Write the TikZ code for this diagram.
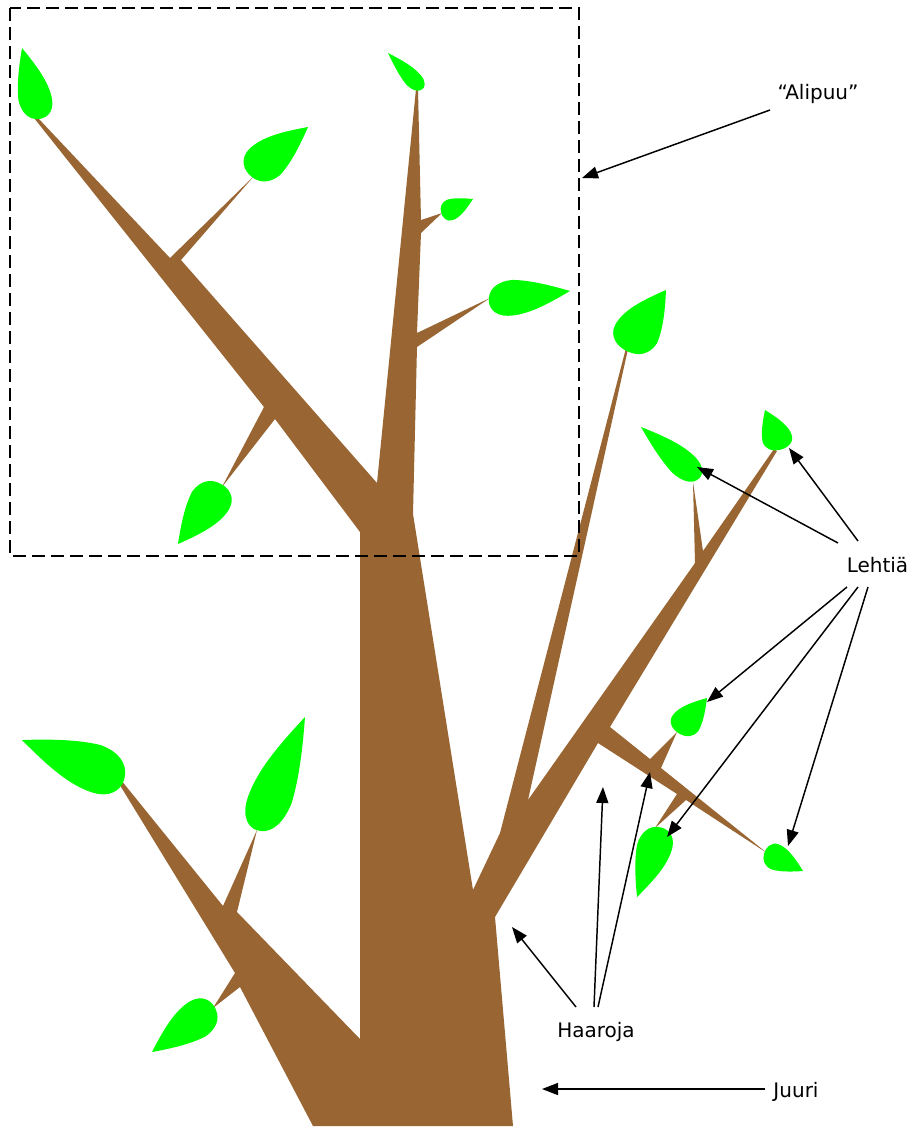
\documentclass[tikz,border=0pt]{standalone}
\usepackage{fontspec}
\setmainfont{DejaVu Sans}
\usetikzlibrary{arrows.meta}
\definecolor{bark}{HTML}{996633}
\definecolor{leafgreen}{HTML}{00FF00}
% leaf: base x, base y, tip x, tip y, signed half-width ratio (pixel units, y down)
\newcommand\drawleaf[5]{%
  \pgfmathsetmacro\lfdx{0.75*(#3-#1)}%
  \pgfmathsetmacro\lfdy{-0.75*(#4-#2)}%
  \pgfmathsetmacro\lfpx{(#5)*(\lfdy)}%
  \pgfmathsetmacro\lfpy{-(#5)*(\lfdx)}%
  \begin{scope}[shift={(#1,#2)},x={(\lfdx pt,\lfdy pt)},y={(\lfpx pt,\lfpy pt)}]
    \fill[leafgreen] (1,0) .. controls (0.7,0.65) and (0.45,1.12) .. (0.22,1.08)
      .. controls (0.04,1.04) and (-0.03,0.5) .. (0,0)
      .. controls (0.02,-0.45) and (0.12,-0.8) .. (0.3,-0.82)
      .. controls (0.52,-0.74) and (0.78,-0.36) .. (1,0) -- cycle;
  \end{scope}}
\begin{document}
\begin{tikzpicture}[x=0.75pt,y=-0.75pt,
  lbl/.style={font=\fontsize{15pt}{18pt}\selectfont, inner sep=0pt, anchor=base},
  ptr/.style={line width=1.1pt, -{Triangle[length=12pt,width=9pt]}},
  subtreebox/.style={line width=1.1pt, dash pattern=on 9.75pt off 4.5pt}]
\useasboundingbox (0,0) rectangle (914,1129);
\fill[white] (0,0) rectangle (914,1129);

% tree (trunk and branches)
\fill[bark] (313,1126) -- (240,987) -- (213,1008) -- (235,973) -- (118,782) -- (121,780)
  -- (223,906) -- (257,830) -- (237,912) -- (360,1039) -- (360,532)
  -- (275,419) -- (222,487) -- (264,407) -- (34,118) -- (38,118)
  -- (170,258) -- (254,176) -- (181,260) -- (377,483)
  -- (416,89) -- (418,89) -- (421,220) -- (442,213) -- (421,233)
  -- (417,333) -- (490,298) -- (417,347) -- (413,514) -- (473,890)
  -- (500,833) -- (626,348) -- (628,349) -- (528,800)
  -- (695,563) -- (693,482) -- (703,551) -- (774,449) -- (777,451)
  -- (610,727) -- (650,759) -- (677,732) -- (661,768) -- (767,853)
  -- (686,800) -- (655,828) -- (677,794) -- (598,743)
  -- (495,917) -- (513,1126) -- cycle;

% leaves
\drawleaf{37}{119}{22}{48}{0.24}
\drawleaf{252}{177}{308}{127}{-0.28}
\drawleaf{219}{483}{178}{544}{-0.29}
\drawleaf{421}{90}{388}{53}{0.18}
\drawleaf{441}{212}{473}{199}{0.32}
\drawleaf{489}{297}{570}{291}{0.23}
\drawleaf{629}{352}{666}{290}{-0.33}
\drawleaf{697}{480}{641}{427}{0.185}
\drawleaf{779}{450}{765}{410}{0.37}
\drawleaf{680}{734}{707}{698}{-0.35}
\drawleaf{658}{827}{637}{897}{-0.25}
\drawleaf{764}{854}{803}{871}{-0.32}
\drawleaf{125}{775}{22}{740}{-0.23}
\drawleaf{261}{831}{305}{717}{-0.185}
\drawleaf{216}{1010}{152}{1052}{0.26}

% subtree frame
\draw[subtreebox] (10,8) rectangle (579,556);

% labels
\node[lbl] (alipuu) at (818,99.5) {“Alipuu”};
\node[lbl] (lehtia) at (877.5,572) {Lehtiä};
\node[lbl] (haaroja) at (596,1037) {Haaroja};
\node[lbl] (juuri) at (796,1097) {Juuri};

% arrow end points
\coordinate (aS) at (770,110);   \coordinate (aT) at (582,178);
\coordinate (l1S) at (838,543);  \coordinate (l1T) at (697,467);
\coordinate (l2S) at (858,541);  \coordinate (l2T) at (789,448);
\coordinate (l3S) at (847,587);  \coordinate (l3T) at (707,702);
\coordinate (l4S) at (858,587);  \coordinate (l4T) at (667,837);
\coordinate (l5S) at (868,587);  \coordinate (l5T) at (788,846);
\coordinate (h1S) at (576,1007); \coordinate (h1T) at (512,927);
\coordinate (h2S) at (594,1007); \coordinate (h2T) at (603,787);
\coordinate (h3S) at (598,1007); \coordinate (h3T) at (650,772);
\coordinate (jS) at (765,1089);  \coordinate (jT) at (542,1089);

\draw[ptr] (aS) -- (aT);
\draw[ptr] (l1S) -- (l1T);
\draw[ptr] (l2S) -- (l2T);
\draw[ptr] (l3S) -- (l3T);
\draw[ptr] (l4S) -- (l4T);
\draw[ptr] (l5S) -- (l5T);
\draw[ptr] (h1S) -- (h1T);
\draw[ptr] (h2S) -- (h2T);
\draw[ptr] (h3S) -- (h3T);
\draw[ptr] (jS) -- (jT);
\end{tikzpicture}
\end{document}
